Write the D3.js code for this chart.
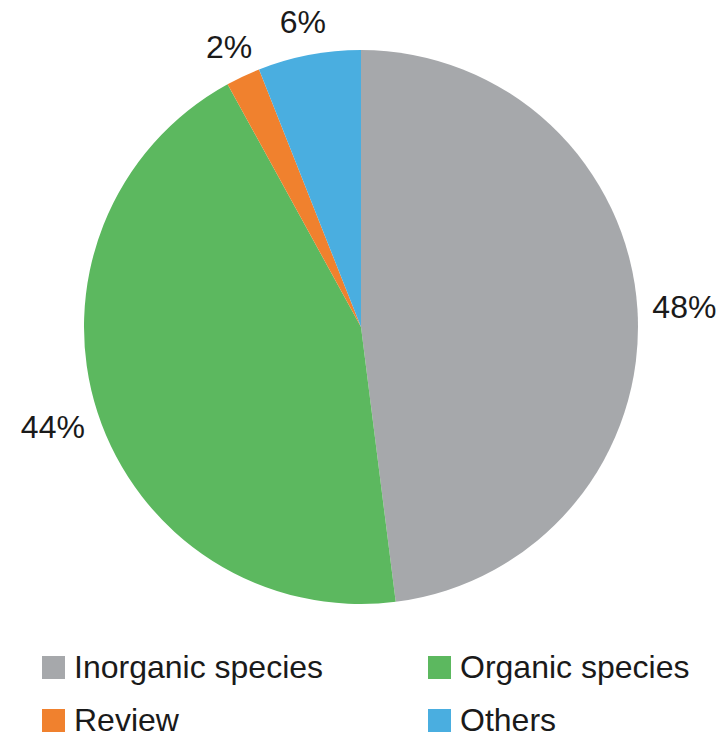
<!DOCTYPE html>
<html>
<head>
<meta charset="utf-8">
<script src="https://cdn.jsdelivr.net/npm/d3@7/dist/d3.min.js"></script>
<style>
  html, body { margin: 0; padding: 0; background: #ffffff; }
  svg { display: block; }
  text { font-family: "Liberation Sans", Arial, Helvetica, sans-serif; fill: #1a1a1a; }
</style>
</head>
<body>
<svg id="chart" width="722" height="738"></svg>
<script>
// Share of publications by topic
const categories = ["Inorganic species", "Organic species", "Review", "Others"];
const values = [48, 44, 2, 6];
const labels = ["48%", "44%", "2%", "6%"];
const colors = ["#a6a8ab", "#5cb85f", "#f0812e", "#4aaee0"];

const svg = d3.select("#chart");
const cx = 361, cy = 327, radius = 277;

const data = categories.map((c, i) => ({ name: c, value: values[i], label: labels[i], color: colors[i] }));

const pie = d3.pie().sort(null).value(d => d.value);
const arcs = pie(data);

const arc = d3.arc().innerRadius(0).outerRadius(radius);
// big slices get their labels a little further out than the thin ones
const labelRadius = d => (d.endAngle - d.startAngle > 1 ? 324 : 310);

const g = svg.append("g").attr("transform", `translate(${cx},${cy})`);

g.selectAll("path.slice")
  .data(arcs)
  .join("path")
  .attr("class", "slice")
  .attr("d", arc)
  .attr("fill", d => d.data.color);

g.selectAll("text.pct")
  .data(arcs)
  .join("text")
  .attr("class", "pct")
  .attr("transform", d => {
    const r = labelRadius(d);
    const c = d3.arc().innerRadius(r).outerRadius(r).centroid(d);
    return `translate(${c})`;
  })
  .attr("text-anchor", "middle")
  .attr("dominant-baseline", "central")
  .attr("font-size", 32)
  .text(d => d.data.label);

// Legend: two columns, two rows
const legendCols = [42, 428];
const legendRows = [656, 709];
const legend = svg.append("g");
const items = legend.selectAll("g.item")
  .data(data)
  .join("g")
  .attr("class", "item")
  .attr("transform", (d, i) => `translate(${legendCols[i % 2]},${legendRows[Math.floor(i / 2)]})`);

items.append("rect")
  .attr("width", 23)
  .attr("height", 23)
  .attr("fill", d => d.color);

items.append("text")
  .attr("x", 32)
  .attr("y", 22)
  .attr("font-size", 32)
  .text(d => d.name);
</script>
</body>
</html>
